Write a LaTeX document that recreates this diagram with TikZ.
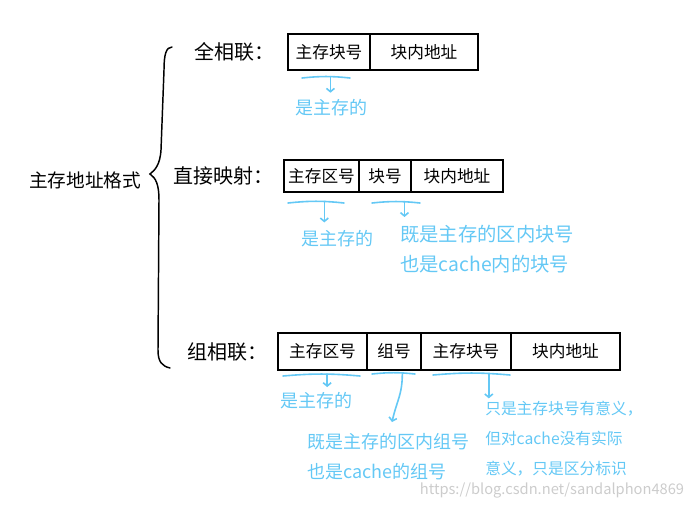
\documentclass[tikz,border=0pt]{standalone}
\usepackage{fontspec}
\setmainfont{Noto Sans CJK SC}
\usetikzlibrary{positioning, calc, arrows.meta}
\definecolor{notecol}{RGB}{100,200,245}

\begin{document}
\begin{tikzpicture}[
    x=0.75pt, y=-0.75pt,
    field/.style={rectangle, draw=black, line width=1.1pt, inner sep=0pt, outer sep=0pt, font=\fontsize{12.5}{14}\selectfont},
    kind/.style={inner sep=0pt, font=\fontsize{14}{16}\selectfont},
    scheme/.style={inner sep=0pt, font=\fontsize{15}{17}\selectfont},
    note/.style={text=notecol, inner sep=0pt, align=left, font=\fontsize{13.5}{22.5}\selectfont},
    hint line/.style={draw=notecol, line width=1.2pt, line cap=round},
    arrow/.style={hint line, -{Straight Barb[length=2.5pt, width=6pt]}}
]
    \useasboundingbox (0,0) rectangle (693,508);

    % Title and brace
    \node[kind] (title) at (85,180) {主存地址格式};
    \draw[line width=1.1pt, line cap=round] (172,47) .. controls (166,47) and (164,55) .. (164,70)
        -- (161,150) .. controls (160,165) and (155,170) .. (150,174)
        .. controls (156,178) and (159,185) .. (159,200)
        -- (158,350) .. controls (158,362) and (162,366) .. (170,368);

    % Fully associative
    \node[field, anchor=north west, minimum width=61.5pt, minimum height=27pt] (qa) at (288,34) {主存块号};
    \node[field, right=0pt of qa, minimum width=81pt, minimum height=27pt] (qb) {块内地址};
    \node[scheme, left=10pt of qa] (qlabel) {全相联：};
    \draw[hint line] ($(qa.south west)+(14,8)$) to[bend left=6] coordinate[pos=0.6] (qu) ($(qa.south east)+(-20,8)$);
    \node[note] (qn) at (331,108) {是主存的};
    \draw[arrow, shorten >=5pt] (qu) -- (qu |- qn.north);

    % Direct mapping
    \node[field, anchor=north west, minimum width=56.25pt, minimum height=24pt] (za) at (284,160) {主存区号};
    \node[field, right=0pt of za, minimum width=39pt, minimum height=24pt] (zb) {块号};
    \node[field, right=0pt of zb, minimum width=69pt, minimum height=24pt] (zc) {块内地址};
    \node[scheme, left=8pt of za] (zlabel) {直接映射：};
    \draw[hint line] ($(za.south west)+(4,11)$) to[bend left=6] coordinate[pos=0.66] (zu1) ($(za.south east)+(-15,11)$);
    \draw[hint line] ($(zb.south west)+(13,11)$) to[bend left=6] coordinate[pos=0.69] (zu2) ($(zb.south east)+(9,11)$);
    \node[note] (zn1) at (337,239) {是主存的};
    \node[note, anchor=north west, font=\fontsize{14.5}{22.5}\selectfont] (zn2) at (400,225) {既是主存的区内块号\\也是cache内的块号};
    \draw[arrow, shorten >=6pt] (zu1) -- (zu1 |- zn1.north);
    \draw[arrow, shorten >=6pt] (zu2) -- (zu2 |- zn2.north);

    % Set associative
    \node[field, anchor=north west, minimum width=66.75pt, minimum height=27.75pt] (xa) at (278,333) {主存区号};
    \node[field, right=0pt of xa, minimum width=40.5pt, minimum height=27.75pt] (xb) {组号};
    \node[field, right=0pt of xb, minimum width=67.5pt, minimum height=27.75pt] (xc) {主存块号};
    \node[field, right=0pt of xc, minimum width=81.75pt, minimum height=27.75pt] (xd) {块内地址};
    \node[scheme, left=7.5pt of xa] (xlabel) {组相联：};
    \draw[hint line] ($(xa.south west)+(5,6)$) to[bend left=5] coordinate[pos=0.58] (xu1) ($(xa.south east)+(-7,6)$);
    \draw[hint line] ($(xb.south west)+(5,4)$) to[bend left=6] coordinate[pos=0.72] (xu2) ($(xb.south east)+(-6,4)$);
    \draw[hint line] ($(xc.south west)+(12,5)$) to[bend left=5] coordinate[pos=0.74] (xu3) ($(xc.south east)+(-1,5)$);
    \node[note] (xn1) at (316,401) {是主存的};
    \node[note, anchor=north west] (xn2) at (307,433) {既是主存的区内组号\\也是cache的组号};
    \node[note, anchor=north west, font=\fontsize{11.8}{22.5}\selectfont] (xn3) at (485,401) {只是主存块号有意义，\\但对cache没有实际\\意义，只是区分标识};
    \coordinate (xtip) at (392,422);
    \draw[arrow, shorten >=4pt] (xu1) -- (xu1 |- xn1.north);
    \draw[arrow] (xu2) .. controls ($(xu2)+(0,22)$) and ($(xtip)+(5,-22)$) .. (xtip);
    \draw[arrow, shorten >=2pt] (xu3) -- (xu3 |- xn3.north);

    % Watermark
    \node[text=gray!40, font=\fontsize{11}{13}\selectfont] (mark) at (552,490) {https://blog.csdn.net/sandalphon4869};
\end{tikzpicture}
\end{document}
